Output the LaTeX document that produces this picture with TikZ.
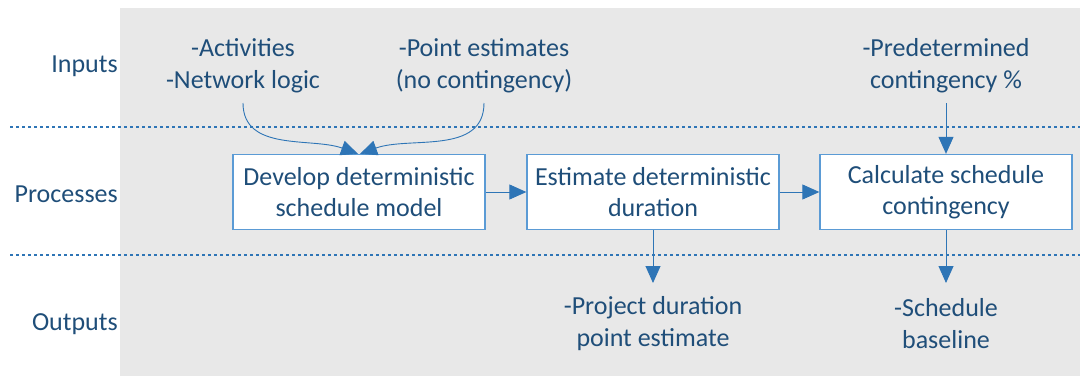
\documentclass[tikz,border=0pt]{standalone}
\usepackage{fontspec}
\setmainfont{Carlito}
\usepackage{xcolor}
\usetikzlibrary{arrows.meta,positioning}
\definecolor{txtblue}{HTML}{1F4E79}
\definecolor{boxblue}{HTML}{5B9BD5}
\definecolor{arrblue}{HTML}{2E75B6}
\definecolor{bggray}{HTML}{E8E8E8}

\begin{document}
\begin{tikzpicture}[x=1pt, y=-1pt]
\tikzset{StepBox/.style = {draw=boxblue, line width=1.3pt, fill=white, minimum width=252pt, minimum height=75pt, align=center, text=txtblue, font=\fontsize{26}{31}\selectfont, inner sep=0pt}}
\tikzset{InfoText/.style = {align=center, text=txtblue, font=\fontsize{26}{32}\selectfont, inner sep=0pt}}
\tikzset{RowLabel/.style = {anchor=east, text=txtblue, font=\fontsize{26}{32}\selectfont, inner sep=0pt}}
\tikzset{Flow/.style = {-{Triangle[length=17pt, width=15pt]}, draw=arrblue, line width=0.9pt}}
\tikzset{Sep/.style = {draw=arrblue, line width=1.2pt, dash pattern=on 3pt off 3pt}}
  \useasboundingbox (0,0) rectangle (1080,376);
  \fill[bggray] (120,8) rectangle (1080,376);
  \draw[Sep] (10,127) -- (1080,127);
  \draw[Sep] (10,255) -- (1080,255);

  \node[RowLabel] (lin) at (118,66) {Inputs};
  \node[RowLabel] (lpr) at (118,194) {Processes};
  \node[RowLabel] (lout) at (118,324) {Outputs};

  \node[InfoText] (in1) at (243,66) {-Activities\\-Network logic};
  \node[InfoText] (in2) at (484,66) {-Point estimates\\(no contingency)};
  \node[InfoText] (in3) at (946,66) {-Predetermined\\contingency \%};

  \node[StepBox] (p1) at (359,192) {Develop deterministic\\schedule model};
  \node[StepBox] (p2) at (653,192) {Estimate deterministic\\duration};
  \node[StepBox] (p3) at (946,192) {Calculate schedule\\contingency};

  \node[InfoText] (out1) at (653,324) {-Project duration\\point estimate};
  \node[InfoText] (out2) at (946,324) {-Schedule\\baseline};

  \coordinate (s1) at (243,103);
  \coordinate (s2) at (484,103);
  \coordinate (s3) at (946,103);
  \coordinate (e1) at (653,283);
  \coordinate (e2) at (946,283);

  \draw[Flow] (s1) to[out=-90, in=160] ([xshift=-1pt]p1.north);
  \draw[Flow] (s2) to[out=-90, in=20] ([xshift=1pt]p1.north);
  \draw[Flow] (s3) -- (p3.north);
  \draw[Flow] (p1) -- (p2);
  \draw[Flow] (p2) -- (p3);
  \draw[Flow] (p2.south) -- (e1);
  \draw[Flow] (p3.south) -- (e2);
\end{tikzpicture}
\end{document}
